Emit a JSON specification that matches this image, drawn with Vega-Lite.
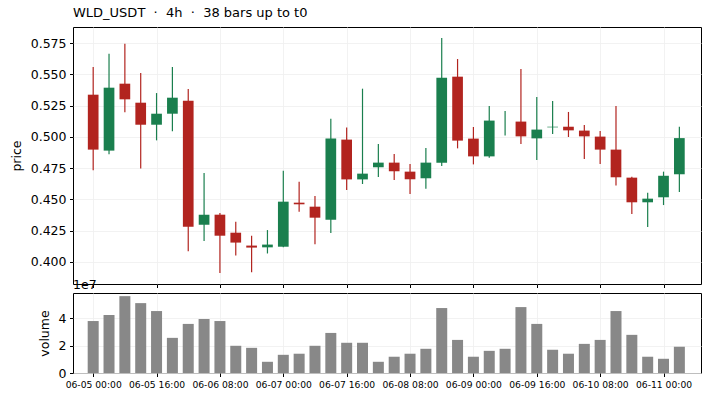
{
  "$schema": "https://vega.github.io/schema/vega-lite/v6.json",
  "padding": {"left": 9, "top": 6, "right": 8, "bottom": 5},
  "background": "white",
  "datasets": {
    "ohlcv": [
      {"t": "2024-06-05T00:00:00Z", "open": 0.5337, "high": 0.5558, "low": 0.4733, "close": 0.4898, "vol": 38000000},
      {"t": "2024-06-05T04:00:00Z", "open": 0.4890, "high": 0.5665, "low": 0.4860, "close": 0.5393, "vol": 42400000},
      {"t": "2024-06-05T08:00:00Z", "open": 0.5425, "high": 0.5745, "low": 0.5196, "close": 0.5300, "vol": 56200000},
      {"t": "2024-06-05T12:00:00Z", "open": 0.5273, "high": 0.5510, "low": 0.4748, "close": 0.5097, "vol": 51100000},
      {"t": "2024-06-05T16:00:00Z", "open": 0.5097, "high": 0.5350, "low": 0.4972, "close": 0.5185, "vol": 45300000},
      {"t": "2024-06-05T20:00:00Z", "open": 0.5185, "high": 0.5558, "low": 0.5044, "close": 0.5313, "vol": 25700000},
      {"t": "2024-06-06T00:00:00Z", "open": 0.5289, "high": 0.5383, "low": 0.4085, "close": 0.4282, "vol": 35900000},
      {"t": "2024-06-06T04:00:00Z", "open": 0.4298, "high": 0.4711, "low": 0.4168, "close": 0.4378, "vol": 39500000},
      {"t": "2024-06-06T08:00:00Z", "open": 0.4378, "high": 0.4392, "low": 0.3912, "close": 0.4210, "vol": 38000000},
      {"t": "2024-06-06T12:00:00Z", "open": 0.4234, "high": 0.4322, "low": 0.4052, "close": 0.4155, "vol": 19900000},
      {"t": "2024-06-06T16:00:00Z", "open": 0.4131, "high": 0.4210, "low": 0.3917, "close": 0.4115, "vol": 18400000},
      {"t": "2024-06-06T20:00:00Z", "open": 0.4117, "high": 0.4255, "low": 0.4068, "close": 0.4139, "vol": 8200000},
      {"t": "2024-06-07T00:00:00Z", "open": 0.4122, "high": 0.4730, "low": 0.4118, "close": 0.4482, "vol": 13300000},
      {"t": "2024-06-07T04:00:00Z", "open": 0.4474, "high": 0.4642, "low": 0.4402, "close": 0.4461, "vol": 14100000},
      {"t": "2024-06-07T08:00:00Z", "open": 0.4442, "high": 0.4528, "low": 0.4141, "close": 0.4354, "vol": 19900000},
      {"t": "2024-06-07T12:00:00Z", "open": 0.4338, "high": 0.5145, "low": 0.4232, "close": 0.4986, "vol": 29300000},
      {"t": "2024-06-07T16:00:00Z", "open": 0.4978, "high": 0.5074, "low": 0.4575, "close": 0.4660, "vol": 22100000},
      {"t": "2024-06-07T20:00:00Z", "open": 0.4660, "high": 0.5385, "low": 0.4623, "close": 0.4706, "vol": 22100000},
      {"t": "2024-06-08T00:00:00Z", "open": 0.4757, "high": 0.4943, "low": 0.4679, "close": 0.4794, "vol": 8200000},
      {"t": "2024-06-08T04:00:00Z", "open": 0.4794, "high": 0.4863, "low": 0.4655, "close": 0.4725, "vol": 11900000},
      {"t": "2024-06-08T08:00:00Z", "open": 0.4722, "high": 0.4783, "low": 0.4543, "close": 0.4661, "vol": 14100000},
      {"t": "2024-06-08T12:00:00Z", "open": 0.4669, "high": 0.4911, "low": 0.4585, "close": 0.4794, "vol": 17700000},
      {"t": "2024-06-08T16:00:00Z", "open": 0.4794, "high": 0.5790, "low": 0.4767, "close": 0.5473, "vol": 47500000},
      {"t": "2024-06-08T20:00:00Z", "open": 0.5481, "high": 0.5622, "low": 0.4908, "close": 0.4970, "vol": 24200000},
      {"t": "2024-06-09T00:00:00Z", "open": 0.4986, "high": 0.5079, "low": 0.4780, "close": 0.4844, "vol": 11900000},
      {"t": "2024-06-09T04:00:00Z", "open": 0.4844, "high": 0.5247, "low": 0.4834, "close": 0.5130, "vol": 16200000},
      {"t": "2024-06-09T08:00:00Z", "open": 0.5100, "high": 0.5207, "low": 0.5011, "close": 0.5100, "vol": 17700000},
      {"t": "2024-06-09T12:00:00Z", "open": 0.5122, "high": 0.5542, "low": 0.4943, "close": 0.5004, "vol": 48200000},
      {"t": "2024-06-09T16:00:00Z", "open": 0.4988, "high": 0.5319, "low": 0.4815, "close": 0.5058, "vol": 35900000},
      {"t": "2024-06-09T20:00:00Z", "open": 0.5076, "high": 0.5287, "low": 0.5023, "close": 0.5081, "vol": 17000000},
      {"t": "2024-06-10T00:00:00Z", "open": 0.5081, "high": 0.5199, "low": 0.4999, "close": 0.5052, "vol": 14100000},
      {"t": "2024-06-10T04:00:00Z", "open": 0.5050, "high": 0.5095, "low": 0.4823, "close": 0.5004, "vol": 21300000},
      {"t": "2024-06-10T08:00:00Z", "open": 0.5002, "high": 0.5047, "low": 0.4783, "close": 0.4898, "vol": 24200000},
      {"t": "2024-06-10T12:00:00Z", "open": 0.4898, "high": 0.5247, "low": 0.4612, "close": 0.4677, "vol": 45300000},
      {"t": "2024-06-10T16:00:00Z", "open": 0.4674, "high": 0.4682, "low": 0.4384, "close": 0.4477, "vol": 27900000},
      {"t": "2024-06-10T20:00:00Z", "open": 0.4477, "high": 0.4554, "low": 0.4280, "close": 0.4506, "vol": 11900000},
      {"t": "2024-06-11T00:00:00Z", "open": 0.4517, "high": 0.4722, "low": 0.4455, "close": 0.4689, "vol": 10400000},
      {"t": "2024-06-11T04:00:00Z", "open": 0.4701, "high": 0.5081, "low": 0.4560, "close": 0.4990, "vol": 19200000}
    ]
  },
  "config": {
    "font": "DejaVu Sans",
    "view": {"stroke": "black", "strokeWidth": 1},
    "axis": {
      "labelFont": "DejaVu Sans",
      "titleFont": "DejaVu Sans",
      "labelColor": "black",
      "titleColor": "black",
      "titleFontWeight": "normal",
      "domain": false,
      "tickColor": "black",
      "tickSize": 3.5,
      "labelPadding": 3.5,
      "labelOverlap": false,
      "gridColor": "#efefef",
      "gridWidth": 0.8
    },
    "title": {"font": "DejaVu Sans", "fontWeight": "normal", "color": "black"}
  },
  "bounds": "flush",
  "spacing": 9,
  "vconcat": [
    {
      "width": 628,
      "height": 257,
      "title": {
        "text": "WLD_USDT\u00a0 ·\u00a0 4h\u00a0 ·\u00a0 38 bars up to t0",
        "anchor": "start",
        "frame": "group",
        "fontSize": 13,
        "offset": 7
      },
      "data": {"name": "ohlcv"},
      "encoding": {
        "x": {
          "field": "t",
          "type": "temporal",
          "scale": {
            "type": "utc",
            "domain": [
              {"year": 2024, "month": 6, "date": 4, "hours": 20, "minutes": 10, "utc": true},
              {"year": 2024, "month": 6, "date": 11, "hours": 8, "minutes": 12, "utc": true}
            ]
          },
          "axis": {
            "title": null,
            "labels": false,
            "grid": true,
            "values": [
              {"year": 2024, "month": 6, "date": 5, "hours": 0, "utc": true},
              {"year": 2024, "month": 6, "date": 5, "hours": 16, "utc": true},
              {"year": 2024, "month": 6, "date": 6, "hours": 8, "utc": true},
              {"year": 2024, "month": 6, "date": 7, "hours": 0, "utc": true},
              {"year": 2024, "month": 6, "date": 7, "hours": 16, "utc": true},
              {"year": 2024, "month": 6, "date": 8, "hours": 8, "utc": true},
              {"year": 2024, "month": 6, "date": 9, "hours": 0, "utc": true},
              {"year": 2024, "month": 6, "date": 9, "hours": 16, "utc": true},
              {"year": 2024, "month": 6, "date": 10, "hours": 8, "utc": true},
              {"year": 2024, "month": 6, "date": 11, "hours": 0, "utc": true}
            ]
          }
        },
        "y": {
          "field": "low",
          "type": "quantitative",
          "scale": {"domain": [0.3824, 0.5878], "nice": false, "zero": false},
          "axis": {
            "title": "price",
            "titleFontSize": 12.5,
            "titlePadding": 7,
            "labelFontSize": 12.5,
            "labelOverlap": false,
            "format": ".3f",
            "grid": true,
            "values": [0.4, 0.425, 0.45, 0.475, 0.5, 0.525, 0.55, 0.575]
          }
        },
        "color": {
          "condition": {"test": "datum.close >= datum.open", "value": "#1a7f4e"},
          "value": "#b2241f"
        }
      },
      "layer": [
        {
          "mark": {"type": "rule", "strokeWidth": 1.2},
          "encoding": {
            "y2": {"field": "high"}
          }
        },
        {
          "mark": {"type": "bar", "size": 10.7},
          "encoding": {
            "y": {
              "field": "open",
              "type": "quantitative",
              "title": "price",
              "axis": {
                "title": "price",
                "titleFontSize": 12.5,
                "titlePadding": 7,
                "labelFontSize": 12.5,
                "labelOverlap": false,
                "format": ".3f",
                "grid": true,
                "values": [0.4, 0.425, 0.45, 0.475, 0.5, 0.525, 0.55, 0.575]
              }
            },
            "y2": {"field": "close"}
          }
        }
      ]
    },
    {
      "width": 628,
      "height": 80,
      "title": {
        "text": "1e7",
        "anchor": "start",
        "frame": "group",
        "fontSize": 12.5,
        "baseline": "alphabetic",
        "offset": -8
      },
      "data": {"name": "ohlcv"},
      "mark": {"type": "bar", "size": 11, "color": "#888888"},
      "encoding": {
        "x": {
          "field": "t",
          "type": "temporal",
          "scale": {
            "type": "utc",
            "domain": [
              {"year": 2024, "month": 6, "date": 4, "hours": 20, "minutes": 10, "utc": true},
              {"year": 2024, "month": 6, "date": 11, "hours": 8, "minutes": 12, "utc": true}
            ]
          },
          "axis": {
            "title": null,
            "grid": true,
            "labelFontSize": 9.2,
            "labelExpr": "utcFormat(datum.value, '%m-%d %H:%M')",
            "labelFlush": false,
            "values": [
              {"year": 2024, "month": 6, "date": 5, "hours": 0, "utc": true},
              {"year": 2024, "month": 6, "date": 5, "hours": 16, "utc": true},
              {"year": 2024, "month": 6, "date": 6, "hours": 8, "utc": true},
              {"year": 2024, "month": 6, "date": 7, "hours": 0, "utc": true},
              {"year": 2024, "month": 6, "date": 7, "hours": 16, "utc": true},
              {"year": 2024, "month": 6, "date": 8, "hours": 8, "utc": true},
              {"year": 2024, "month": 6, "date": 9, "hours": 0, "utc": true},
              {"year": 2024, "month": 6, "date": 9, "hours": 16, "utc": true},
              {"year": 2024, "month": 6, "date": 10, "hours": 8, "utc": true},
              {"year": 2024, "month": 6, "date": 11, "hours": 0, "utc": true}
            ]
          }
        },
        "y": {
          "field": "vol",
          "type": "quantitative",
          "scale": {"domain": [0, 58500000], "nice": false},
          "axis": {
            "title": "volume",
            "titleFontSize": 12.5,
            "titlePadding": 7,
            "labelFontSize": 12.5,
            "grid": true,
            "values": [0, 20000000, 40000000],
            "labelExpr": "format(datum.value / 1e7, 'd')"
          }
        }
      }
    }
  ]
}
